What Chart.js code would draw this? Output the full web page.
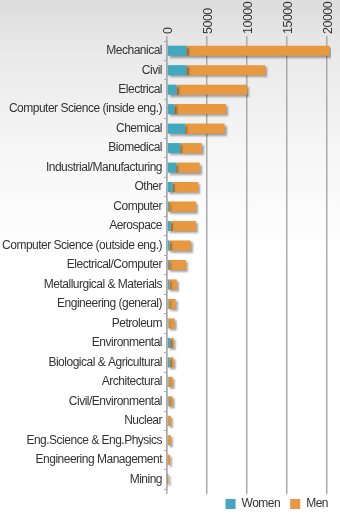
<!DOCTYPE html>
<html>
<head>
<meta charset="utf-8">
<script src="https://cdn.jsdelivr.net/npm/chart.js@4.4.1/dist/chart.umd.min.js"></script>
<style>
  html, body { margin: 0; padding: 0; }
  body {
    width: 340px; height: 518px; overflow: hidden;
    background: linear-gradient(to bottom, #dcdcdc 0px, #e9e9e9 50px, #f6f6f6 150px, #ffffff 260px);
  }
  #wrap { position: relative; width: 340px; height: 518px; }
</style>
</head>
<body>
<div id="wrap"><canvas id="chart" width="340" height="518"></canvas></div>
<script>
// Disciplines, sorted by total degrees
const categories = [
  'Mechanical', 'Civil', 'Electrical', 'Computer Science (inside eng.)', 'Chemical',
  'Biomedical', 'Industrial/Manufacturing', 'Other', 'Computer', 'Aerospace',
  'Computer Science (outside eng.)', 'Electrical/Computer', 'Metallurgical & Materials',
  'Engineering (general)', 'Petroleum', 'Environmental', 'Biological & Agricultural',
  'Architectural', 'Civil/Environmental', 'Nuclear', 'Eng.Science & Eng.Physics',
  'Engineering Management', 'Mining'
];

// Valeurs
const women = [2460, 2460, 1210, 960, 2290, 1670, 1170, 710, 250, 460,
  340, 250, 300, 210, 170, 420, 340, 170, 210, 80, 120, 80, 40];
const men = [17880, 9840, 8830, 6420, 4920, 2670, 2920, 3210, 3420, 3170,
  2620, 2130, 950, 880, 790, 420, 500, 540, 500, 420, 380, 300, 170];

const xTicks = [0, 5000, 10000, 15000, 20000];

const textColor = '#333333';
const gridColor = '#aaaaaa';
const fontFamily = '"Liberation Sans", Arial, sans-serif';

// ombre portée sous les barres
const barShadow = {
  id: 'barShadow',
  beforeDatasetsDraw(chart) {
    const ctx = chart.ctx;
    ctx.save();
    ctx.shadowColor = 'rgba(0,0,0,0.35)';
    ctx.shadowBlur = 2;
    ctx.shadowOffsetX = 2;
    ctx.shadowOffsetY = 2;
  },
  afterDatasetsDraw(chart) {
    chart.ctx.restore();
  }
};

// texte un peu resserré, comme l'original
const tightText = {
  id: 'tightText',
  beforeDraw(chart) { chart.ctx.letterSpacing = '-0.5px'; },
  afterDraw(chart) { chart.ctx.letterSpacing = '0px'; }
};

// remonter / décaler la légende sous le graphique
const legendNudge = {
  id: 'legendNudge',
  afterLayout(chart) {
    const lg = chart.legend;
    lg.top -= 6; lg.bottom -= 6;
    lg.left += 11; lg.right += 11;
  }
};

const keepTicks = (scale) => {
  scale.ticks = xTicks.map(v => ({ value: v }));
};

new Chart(document.getElementById('chart'), {
  type: 'bar',
  data: {
    labels: categories,
    datasets: [
      { label: 'Women', data: women, backgroundColor: '#41a8be', barPercentage: 0.52, categoryPercentage: 1 },
      { label: 'Men', data: men, backgroundColor: '#e8983f', barPercentage: 0.52, categoryPercentage: 1 }
    ]
  },
  options: {
    indexAxis: 'y',
    responsive: false,
    animation: false,
    devicePixelRatio: 1,
    layout: { padding: { left: 0, right: 9, top: 0, bottom: 0 } },
    scales: {
      x: {
        position: 'top',
        stacked: true,
        min: 0,
        max: 20500,
        afterBuildTicks: keepTicks,
        afterFit(s) { s.height = 41; },
        border: { display: false },
        grid: { color: gridColor, lineWidth: 1.5, tickLength: 5 },
        ticks: {
          color: textColor, minRotation: 90, maxRotation: 90, padding: 2, labelOffset: 17,
          font: { family: fontFamily, size: 12.5 },
          callback: (v) => String(v)
        }
      },
      x2: {
        position: 'bottom',
        min: 0,
        max: 20500,
        afterBuildTicks: keepTicks,
        border: { display: false },
        grid: { color: gridColor, lineWidth: 1.5, tickLength: 5, drawOnChartArea: false },
        ticks: { display: false }
      },
      y: {
        stacked: true,
        afterFit(s) { s.width = 167; },
        border: { display: true, color: gridColor, width: 1.5 },
        grid: { color: gridColor, drawOnChartArea: false, tickLength: 3, offset: true },
        ticks: { color: textColor, padding: 2, autoSkip: false, font: { family: fontFamily, size: 12 } }
      }
    },
    plugins: {
      legend: {
        position: 'bottom',
        align: 'end',
        maxHeight: 24,
        labels: {
          color: textColor, boxWidth: 10, boxHeight: 10, padding: 10,
          font: { family: fontFamily, size: 12 }
        }
      },
      tooltip: { enabled: false }
    }
  },
  plugins: [barShadow, tightText, legendNudge]
});
</script>
</body>
</html>
